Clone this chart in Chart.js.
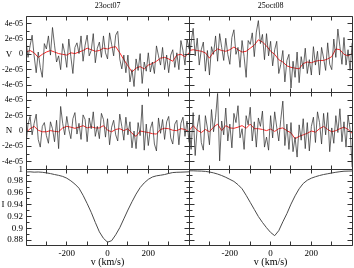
<!DOCTYPE html>
<html><head><meta charset="utf-8">
<script src="https://cdn.jsdelivr.net/npm/chart.js@4.4.1/dist/chart.umd.min.js"></script>
<style>html,body{margin:0;padding:0;background:#fff;overflow:hidden}#wrap{width:354px;height:268px;position:relative}</style>
</head><body><div id="wrap"><canvas id="c" width="354" height="268"></canvas></div>
<script>
// ---- data (V and N in units of 1e-5) ----
const VEL_FINE = [-400,-390,-380,-370,-360,-350,-340,-330,-320,-310,-300,-290,-280,-270,-260,-250,-240,-230,-220,-210,-200,-190,-180,-170,-160,-150,-140,-130,-120,-110,-100,-90,-80,-70,-60,-50,-40,-30,-20,-10,0,10,20,30,40,50,60,70,80,90,100,110,120,130,140,150,160,170,180,190,200,210,220,230,240,250,260,270,280,290,300,310,320,330,340,350,360,370,380,390,400];
const VEL_COARSE = [-400,-380,-360,-340,-320,-300,-280,-260,-240,-220,-200,-180,-160,-140,-120,-100,-80,-60,-40,-20,0,20,40,60,80,100,120,140,160,180,200,220,240,260,280,300,320,340,360,380,400];

const V_OCT07 = [1.8,-0.4,1.1,2.5,-0.2,-2.4,0.3,-1.7,-3.0,1.4,0.7,2.4,-0.1,3.5,1.2,-1.0,-0.2,-2.0,1.4,0.2,-1.7,2.0,-0.3,-2.5,0.9,1.5,0.1,2.4,-0.9,1.2,2.5,-0.2,0.5,2.7,-1.1,0.8,1.6,-0.4,2.4,0.2,-0.6,2.8,1.3,-0.2,2.5,3.0,-0.6,-1.9,-0.1,-2.4,-0.1,-3.6,-2.0,-4.2,-0.6,-2.1,0.1,-3.8,-1.0,-2.2,0.2,-2.3,-1.0,-2.5,1.1,-0.2,-1.4,0.9,-2.0,-0.1,-2.4,-0.1,0.6,-1.7,0.2,-2.0,1.8,0.5,-1.4,2.0,0.7];
const V_OCT07_MEAN = [0.3,0.5,0.2,-0.4,0.0,0.3,0.5,0.3,0.1,0.0,-0.1,0.2,0.1,0.3,0.5,0.8,0.6,0.4,0.5,0.8,0.7,0.9,1.0,0.2,-0.7,-1.5,-2.3,-1.8,-1.6,-1.9,-1.4,-1.2,-0.9,-0.5,-0.4,-0.6,-0.9,-0.1,0.0,-0.3,0.2];
const N_OCT07 = [-1.7,0.9,1.9,-0.5,1.0,2.2,-1.1,-2.1,0.6,1.1,-0.6,-1.6,1.2,0.3,-1.4,1.4,-2.3,3.2,1.0,-0.5,1.9,0.2,-1.0,1.6,2.4,-0.4,1.0,-1.1,2.1,1.5,-1.4,1.7,0.3,2.5,-0.7,0.6,-1.0,2.3,1.5,-0.8,1.6,-1.8,0.5,1.4,-0.5,-1.3,2.2,0.6,-1.2,1.8,-0.5,1.2,-2.2,0.0,-2.3,1.1,-0.6,3.4,-2.5,0.9,-1.9,0.3,1.2,-1.7,-2.6,1.7,-0.3,1.5,-1.1,1.2,1.9,-0.9,-1.7,0.9,1.4,-1.8,1.0,1.8,-0.7,1.3,-1.5];
const N_OCT07_MEAN = [-0.2,0.3,0.6,0.1,-0.1,-0.1,0.05,-0.05,-0.1,0.4,0.6,0.5,0.35,0.5,0.7,0.4,0.55,0.4,0.4,0.7,0.1,-0.1,0.2,0.3,0.05,0.3,-0.3,-0.7,0.0,-0.1,-0.2,-0.35,-0.4,0.2,0.35,0.3,0.1,0.05,0.3,0.2,-0.1];
const I_OCT07 = [0.9955,0.9958,0.9952,0.9955,0.9950,0.9940,0.9928,0.9912,0.9898,0.9880,0.9850,0.9805,0.9750,0.9680,0.9560,0.9420,0.9270,0.9100,0.8940,0.8830,0.8765,0.8790,0.8890,0.9010,0.9160,0.9310,0.9450,0.9580,0.9690,0.9770,0.9830,0.9870,0.9890,0.9900,0.9912,0.9930,0.9945,0.9950,0.9952,0.9955,0.9958];

const V_OCT08 = [-0.9,1.5,3.4,-0.2,2.1,-1.4,0.6,1.6,-2.2,0.5,-2.7,1.0,0.0,2.4,-0.9,2.7,0.9,-0.8,2.1,0.0,-1.3,2.2,3.2,0.0,0.9,-1.7,1.8,-0.3,-3.0,1.8,1.3,2.8,-0.3,2.9,4.4,1.4,2.6,-0.7,2.7,-0.2,1.7,-1.5,0.6,1.7,-2.5,-1.3,0.5,-3.6,-0.8,0.0,-4.4,-0.9,-3.0,0.3,-3.7,-0.3,-1.9,0.8,-2.5,-0.7,-2.7,1.0,-1.4,0.4,-2.7,0.9,-0.5,-2.1,1.5,-1.3,-2.0,2.0,-0.4,3.3,1.0,-1.3,2.2,-1.4,0.6,-2.1,1.5];
const V_OCT08_MEAN = [0.5,0.6,0.5,0.4,0.2,-0.5,0.3,0.7,0.5,0.4,0.6,0.95,0.6,0.3,0.4,0.8,1.2,1.9,1.6,1.1,0.4,0.0,-0.7,-1.0,-1.5,-1.7,-1.8,-1.9,-1.2,-1.0,-1.1,-0.9,-0.8,-0.8,-0.6,-0.3,0.7,0.6,0.0,-0.2,0.1];
const N_OCT08 = [1.0,-2.4,2.4,-3.2,0.5,2.1,-1.5,-2.5,2.0,0.4,-1.8,2.8,-0.1,1.8,4.9,-3.9,1.3,-0.5,3.0,-1.3,0.9,-2.2,2.3,1.1,3.3,-0.9,0.3,-2.4,2.0,0.8,3.1,-1.3,1.2,-2.1,1.7,0.6,2.6,-2.1,-0.8,-2.5,2.0,-0.9,2.5,0.5,-1.3,1.5,3.9,-1.9,0.9,-2.4,1.1,-2.7,-0.8,-3.4,0.8,-1.2,1.6,-2.3,1.1,-2.6,0.6,1.8,-1.5,2.5,1.1,-1.7,2.3,-0.5,2.4,-2.7,0.4,-1.6,2.0,-0.2,2.9,-1.4,1.2,-2.1,2.0,0.2,-4.7];
const N_OCT08_MEAN = [0.05,0.7,0.1,-0.2,0.2,-0.1,0.5,0.9,0.05,0.7,0.4,0.35,0.5,0.7,0.35,0.9,0.3,0.3,0.2,0.05,0.25,-0.05,0.3,0.4,0.05,-0.25,-1.0,-0.7,-0.5,-0.3,0.0,-0.15,0.3,0.6,0.2,-0.1,0.05,0.3,0.5,0.2,-0.3];
const I_OCT08 = [0.9975,0.9975,0.9972,0.9970,0.9965,0.9955,0.9940,0.9920,0.9895,0.9865,0.9830,0.9795,0.9740,0.9670,0.9560,0.9440,0.9320,0.9200,0.9100,0.9010,0.8930,0.8875,0.8960,0.9110,0.9250,0.9410,0.9550,0.9670,0.9760,0.9815,0.9850,0.9875,0.9895,0.9912,0.9925,0.9938,0.9950,0.9960,0.9968,0.9970,0.9972];

// ---- axes / tick labels ----
const COLUMN_TITLES = ['23oct07', '25oct08'];
const ROW_NAMES = ['V', 'N', 'I'];
const X_TITLE = 'v (km/s)';
const X_RANGE = [-400, 400];
const X_LABEL_TICKS = [-200, 0, 200];
const X_MARK_TICKS = [-300, -200, -100, 0, 100, 200, 300];
const VN_RANGE = [-5, 5];
const VN_LABEL_TICKS = [-4, -2, 0, 2, 4];
const VN_MINOR_TICKS = [-5, -3, -1, 1, 3, 5];
const I_RANGE = [0.87, 1.0];
const I_LABEL_TICKS = [0.88, 0.9, 0.92, 0.94, 0.96, 0.98, 1];
const I_MINOR_TICKS = [0.87, 0.89, 0.91, 0.93, 0.95, 0.97, 0.99];

const SERIF = '"Liberation Serif", "Times New Roman", serif';
const NOISE_COLOR = 'rgba(45,45,45,0.72)';
const MEAN_COLOR = '#ff2a2a';
const PROFILE_COLOR = '#4a4a4a';
const FRAME_COLOR = '#333';

const pts = (xs, ys) => ys.map((y, i) => ({x: xs[i], y}));
function ds(xs, ys, color, width, xID, yID) {
  return {data: pts(xs, ys), borderColor: color, borderWidth: width, pointRadius: 0,
    fill: false, tension: 0, xAxisID: xID, yAxisID: yID};
}
const fmtVN = v => (v === 0 ? '0' : v + 'e-05');
const fmtI = v => String(+Number(v).toFixed(2));

function yScale(range, labels, size, fmt) {
  return {type: 'linear', axis: 'y', position: 'left', stack: 'rows', stackWeight: 1,
    min: range[0], max: range[1],
    grid: {display: false, drawTicks: false}, border: {display: false},
    afterBuildTicks: s => { s.ticks = labels.map(v => ({value: v})); },
    afterFit: s => { s.width = 26; },
    ticks: {font: {family: SERIF, size}, color: '#000', padding: 3, autoSkip: false, callback: fmt}};
}
function xScale() {
  return {type: 'linear', axis: 'x', position: 'bottom', stack: 'cols', stackWeight: 1,
    min: X_RANGE[0], max: X_RANGE[1],
    grid: {display: false, drawTicks: false}, border: {display: false},
    afterBuildTicks: s => { s.ticks = X_LABEL_TICKS.map(v => ({value: v})); },
    afterFit: s => { s.height = 22; },
    ticks: {font: {family: SERIF, size: 9}, color: '#000', padding: 2, maxRotation: 0, autoSkip: false, callback: v => String(v)},
    title: {display: true, text: X_TITLE, font: {family: SERIF, size: 10}, color: '#000', padding: 0}};
}
function topScale(text) {
  return {type: 'linear', axis: 'x', position: 'top', stack: 'cols', stackWeight: 1,
    min: X_RANGE[0], max: X_RANGE[1],
    grid: {display: false, drawTicks: false}, border: {display: false},
    ticks: {display: false},
    afterFit: s => { s.height = 16; },
    title: {display: true, text, font: {family: SERIF, size: 8}, color: '#000', padding: {top: 1, bottom: 0}}};
}

const ROWS = [
  {id: 'yV', major: VN_LABEL_TICKS, minor: VN_MINOR_TICKS, name: ROW_NAMES[0], at: 0, lx: 9},
  {id: 'yN', major: VN_LABEL_TICKS, minor: VN_MINOR_TICKS, name: ROW_NAMES[1], at: 0, lx: 9},
  {id: 'yI', major: I_LABEL_TICKS, minor: I_MINOR_TICKS, name: ROW_NAMES[2], at: 0.94, lx: 3}
];

const cr = v => Math.floor(v) + 0.5;
const framePlugin = {
  id: 'frames',
  afterDatasetsDraw(chart) {
    const {ctx, scales} = chart;
    ctx.save();
    ctx.strokeStyle = FRAME_COLOR;
    ctx.lineWidth = 1;
    for (const cid of ['xL', 'xR']) {
      const xs = scales[cid];
      const l = cr(xs.left), r = cr(xs.right);
      for (const row of ROWS) {
        const ys = scales[row.id];
        const t = cr(ys.top), b = cr(ys.bottom);
        ctx.beginPath();
        ctx.rect(l, t, r - l, b - t);
        for (const v of X_MARK_TICKS) {
          const px = cr(xs.getPixelForValue(v));
          ctx.moveTo(px, t); ctx.lineTo(px, t + 4);
          ctx.moveTo(px, b); ctx.lineTo(px, b - 4);
        }
        for (const [list, len] of [[row.major, 5], [row.minor, 3]]) {
          for (const v of list) {
            const py = cr(ys.getPixelForValue(v));
            ctx.moveTo(l, py); ctx.lineTo(l + len, py);
            ctx.moveTo(r, py); ctx.lineTo(r - len, py);
          }
        }
        ctx.stroke();
      }
    }
    ctx.fillStyle = '#000';
    ctx.font = '9px ' + SERIF;
    ctx.textAlign = 'center';
    ctx.textBaseline = 'middle';
    for (const row of ROWS) {
      ctx.fillText(row.name, row.lx, scales[row.id].getPixelForValue(row.at));
    }
    ctx.restore();
  }
};

new Chart(document.getElementById('c'), {
  type: 'line',
  data: {datasets: [
    ds(VEL_FINE, V_OCT07, NOISE_COLOR, 1, 'xL', 'yV'),
    ds(VEL_COARSE, V_OCT07_MEAN, MEAN_COLOR, 1, 'xL', 'yV'),
    ds(VEL_FINE, N_OCT07, NOISE_COLOR, 1, 'xL', 'yN'),
    ds(VEL_COARSE, N_OCT07_MEAN, MEAN_COLOR, 1, 'xL', 'yN'),
    ds(VEL_COARSE, I_OCT07, PROFILE_COLOR, 1, 'xL', 'yI'),
    ds(VEL_FINE, V_OCT08, NOISE_COLOR, 1, 'xR', 'yV'),
    ds(VEL_COARSE, V_OCT08_MEAN, MEAN_COLOR, 1, 'xR', 'yV'),
    ds(VEL_FINE, N_OCT08, NOISE_COLOR, 1, 'xR', 'yN'),
    ds(VEL_COARSE, N_OCT08_MEAN, MEAN_COLOR, 1, 'xR', 'yN'),
    ds(VEL_COARSE, I_OCT08, PROFILE_COLOR, 1, 'xR', 'yI')
  ]},
  options: {
    responsive: false, animation: false, devicePixelRatio: 1,
    layout: {padding: {left: 0, right: 1, top: 0, bottom: 0}},
    plugins: {legend: {display: false}, tooltip: {enabled: false}, title: {display: false}},
    scales: {
      yI: yScale(I_RANGE, I_LABEL_TICKS, 9, fmtI),
      yN: yScale(VN_RANGE, VN_LABEL_TICKS, 8, fmtVN),
      yV: yScale(VN_RANGE, VN_LABEL_TICKS, 8, fmtVN),
      xL: xScale(),
      xR: xScale(),
      tR: topScale(COLUMN_TITLES[1]),
      tL: topScale(COLUMN_TITLES[0])
    }
  },
  plugins: [framePlugin]
});
</script></body></html>
